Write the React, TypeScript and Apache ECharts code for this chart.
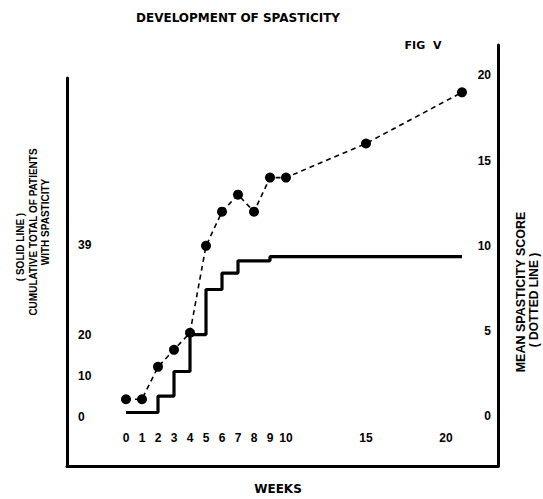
import React, { useEffect, useRef } from "react";
import * as echarts from "echarts";

// Dotted line: mean spasticity score (right axis)
const scoreWeeks = [0, 1, 2, 3, 4, 5, 6, 7, 8, 9, 10, 15, 21];
const meanScore = [1, 1, 2.9, 3.9, 4.9, 10, 12, 13, 12, 14, 14, 16, 19];

// Solid line: cumulative total of patients with spasticity (left axis)
const stepWeeks = [0, 2, 3, 4, 5, 6, 7, 9, 21];
const cumulative = [1, 5, 11, 20, 31, 35, 38, 39, 39];

// Tick labels
const weekTicks = [0, 1, 2, 3, 4, 5, 6, 7, 8, 9, 10, 15, 20];
const leftTicks = [0, 10, 20, 39];
const rightTicks = [0, 5, 10, 15, 20];

const FONT = "'Liberation Sans', Arial, sans-serif";
const WIDE = "'DejaVu Sans', sans-serif";

export default function App() {
  const ref = useRef<HTMLDivElement>(null);

  useEffect(() => {
    if (!ref.current) return;
    const chart = echarts.init(ref.current, undefined, { renderer: "svg" });

    const axisLine = { show: true, onZero: false, lineStyle: { color: "#000", width: 3 } };
    const labelBase = { color: "#000", fontWeight: "bold" as const, fontFamily: FONT, fontSize: 12 };

    chart.setOption({
      animation: false,
      backgroundColor: "#fff",
      grid: [
        { left: 67, right: 45, top: 78, bottom: 33 },
        { left: 67, right: 45, top: 45, bottom: 33 },
      ],
      xAxis: [
        {
          gridIndex: 0,
          type: "value",
          min: -3.6875,
          max: 23.25,
          axisLine,
          axisTick: { show: false },
          splitLine: { show: false },
          axisLabel: { ...labelBase, inside: true, margin: 22, customValues: weekTicks },
        },
        {
          gridIndex: 1,
          type: "value",
          min: -3.6875,
          max: 23.25,
          show: false,
        },
      ],
      yAxis: [
        {
          gridIndex: 0,
          type: "value",
          position: "left",
          min: -12.05,
          max: 82.59,
          axisLine,
          axisTick: { show: false },
          splitLine: { show: false },
          axisLabel: {
            ...labelBase,
            inside: true,
            margin: 11,
            customValues: leftTicks,
            formatter: (v: number) => (v === 39 ? "{up|39}" : String(v)),
            rich: { up: { ...labelBase, padding: [0, 0, 24, 0] } },
          },
        },
        {
          gridIndex: 1,
          type: "value",
          position: "right",
          min: -2.915,
          max: 21.777,
          axisLine,
          axisTick: { show: false },
          splitLine: { show: false },
          axisLabel: { ...labelBase, inside: true, margin: 7, customValues: rightTicks },
        },
      ],
      series: [
        {
          type: "line",
          xAxisIndex: 0,
          yAxisIndex: 0,
          step: "end",
          symbol: "none",
          data: stepWeeks.map((w, i) => [w, cumulative[i]]),
          lineStyle: { color: "#000", width: 3.2 },
          z: 2,
        },
        {
          type: "line",
          xAxisIndex: 1,
          yAxisIndex: 1,
          symbol: "circle",
          symbolSize: 10,
          data: scoreWeeks.map((w, i) => [w, meanScore[i]]),
          itemStyle: { color: "#000" },
          lineStyle: { color: "#000", width: 1.6, type: [5, 4] },
          z: 3,
        },
      ],
      graphic: [
        {
          type: "text",
          x: 238,
          y: 18,
          style: { text: "DEVELOPMENT OF SPASTICITY", font: `bold 12px ${WIDE}`, fill: "#000", align: "center", verticalAlign: "middle" },
        },
        {
          type: "text",
          x: 423,
          y: 45,
          style: { text: "FIG  V", font: `bold 11px ${WIDE}`, fill: "#000", align: "center", verticalAlign: "middle" },
        },
        {
          type: "text",
          x: 278,
          y: 489,
          style: { text: "WEEKS", font: `bold 12px ${WIDE}`, fill: "#000", align: "center", verticalAlign: "middle" },
        },
        {
          type: "text",
          x: 20,
          y: 247,
          rotation: Math.PI / 2,
          style: { text: "( SOLID LINE )", font: `bold 10px ${FONT}`, fill: "#000", align: "center", verticalAlign: "middle" },
        },
        {
          type: "text",
          x: 33,
          y: 232,
          rotation: Math.PI / 2,
          style: { text: "CUMULATIVE TOTAL OF PATIENTS", font: `bold 10px ${FONT}`, fill: "#000", align: "center", verticalAlign: "middle" },
        },
        {
          type: "text",
          x: 45,
          y: 222,
          rotation: Math.PI / 2,
          style: { text: "WITH SPASTICITY", font: `bold 10px ${FONT}`, fill: "#000", align: "center", verticalAlign: "middle" },
        },
        {
          type: "text",
          x: 521,
          y: 292,
          rotation: Math.PI / 2,
          style: { text: "MEAN SPASTICITY SCORE", font: `bold 12.5px ${FONT}`, fill: "#000", align: "center", verticalAlign: "middle" },
        },
        {
          type: "text",
          x: 534,
          y: 300,
          rotation: Math.PI / 2,
          style: { text: "( DOTTED LINE )", font: `bold 12px ${FONT}`, fill: "#000", align: "center", verticalAlign: "middle" },
        },
      ],
    });

    return () => chart.dispose();
  }, []);

  return (
    <div
      ref={ref}
      style={{ position: "fixed", left: 0, top: 0, width: 543, height: 499, background: "#fff" }}
    />
  );
}
